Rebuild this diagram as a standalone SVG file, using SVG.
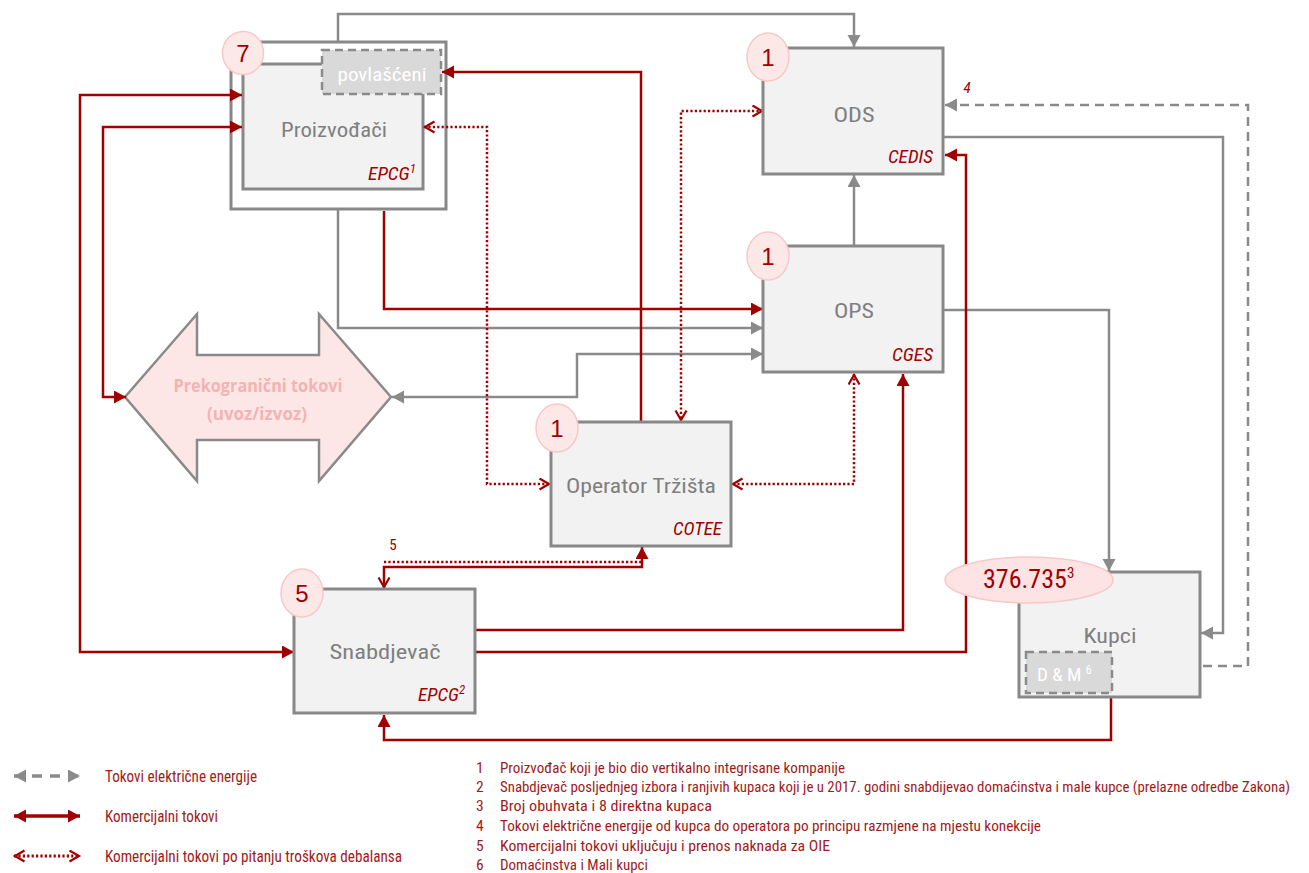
<svg xmlns="http://www.w3.org/2000/svg" width="1309" height="873" viewBox="0 0 1309 873">
<style>
.box{fill:#f2f2f2;stroke:#888;stroke-width:3}
.badge{fill:#fde8e8;stroke:#f8c8c8;stroke-width:1.5}
.bnum{font-family:"Liberation Sans",Arial,sans-serif;font-size:24px;fill:#a00000;text-anchor:middle}
.lbl{font-family:"Liberation Sans Narrow","Roboto Condensed","Liberation Sans",Arial,sans-serif;font-size:21px;fill:#7f7f7f;text-anchor:middle}
.org{font-family:"Liberation Sans Narrow","Roboto Condensed","Liberation Sans",Arial,sans-serif;font-size:18px;font-style:italic;fill:#a00000;text-anchor:end}
.g{fill:none;stroke:#8a8a8a;stroke-width:2.5}
.gd{fill:none;stroke:#8a8a8a;stroke-width:2.5;stroke-dasharray:9,6}
.r{fill:none;stroke:#a00000;stroke-width:2.5}
.rd{fill:none;stroke:#a00000;stroke-width:2.5;stroke-dasharray:2.2,2.2}
.txt{font-family:"Liberation Sans Narrow","Roboto Condensed","Liberation Sans",Arial,sans-serif;font-size:16px;fill:#a11a1a}
.fn{font-family:"Liberation Sans Narrow","Roboto Condensed","Liberation Sans",Arial,sans-serif;font-size:15.5px;fill:#a11a1a}
</style>
<defs>
<marker id="ag" markerUnits="userSpaceOnUse" markerWidth="14" markerHeight="14" refX="12" refY="6.5" orient="auto-start-reverse"><path d="M0,0 L12,6.5 L0,13 z" fill="#8a8a8a"/></marker>
<marker id="ar" markerUnits="userSpaceOnUse" markerWidth="14" markerHeight="14" refX="12" refY="6.5" orient="auto-start-reverse"><path d="M0,0 L12,6.5 L0,13 z" fill="#a00000"/></marker>
<marker id="ac" markerUnits="userSpaceOnUse" markerWidth="14" markerHeight="14" refX="12" refY="6.5" orient="auto-start-reverse"><path d="M1.5,1 L11,6.5 L1.5,12" fill="none" stroke="#a00000" stroke-width="2.2"/></marker>
</defs>

<g id="proizvodjaci">
<rect x="231" y="42" width="215" height="167" fill="none" stroke="#888" stroke-width="3"/>
<rect class="box" x="243" y="64" width="180" height="125"/>
<text class="lbl" x="334" y="137" textLength="106" lengthAdjust="spacingAndGlyphs">Proizvođači</text>
<text class="org" x="416" y="180" textLength="48" lengthAdjust="spacingAndGlyphs">EPCG<tspan dy="-7" font-size="12">1</tspan></text>
</g>
<g id="povlasceni">
<rect x="322" y="50" width="119" height="44" fill="#d9d9d9" stroke="#8a8a8a" stroke-width="2.5" stroke-dasharray="8,5"/>
<text x="382" y="81" style="font-family:'Liberation Sans Narrow','Roboto Condensed','Liberation Sans',Arial,sans-serif;font-size:19px;fill:#fff;text-anchor:middle" textLength="89" lengthAdjust="spacingAndGlyphs">povlašćeni</text>
</g>
<g id="badge7">
<ellipse class="badge" cx="243" cy="53" rx="20.5" ry="21.5"/>
<text class="bnum" x="243" y="62">7</text>
</g>

<g id="prekogranicni">
<path d="M125,397 L197,314 L197,355 L319,355 L319,314 L391,397 L319,481 L319,440 L197,440 L197,481 Z" fill="#fde6e6" stroke="#8a8a8a" stroke-width="2.5" stroke-linejoin="miter"/>
<text x="258" y="392" style="font-family:'Open Sans','Liberation Sans',sans-serif;font-size:17px;font-weight:bold;fill:#f4b3b3;text-anchor:middle" textLength="169" lengthAdjust="spacingAndGlyphs">Prekogranični tokovi</text>
<text x="257" y="420" style="font-family:'Open Sans','Liberation Sans',sans-serif;font-size:17px;font-weight:bold;fill:#f4b3b3;text-anchor:middle" textLength="100" lengthAdjust="spacingAndGlyphs">(uvoz/izvoz)</text>
</g>

<g id="connectors">
<path class="g" d="M338,41 L338,14 L854,14 L854,47" marker-end="url(#ag)"/>
<path class="g" d="M338,210 L338,328 L763,328" marker-end="url(#ag)"/>
<path class="g" d="M854,246 L854,175" marker-end="url(#ag)"/>
<path class="g" d="M944,137 L1223,137 L1223,633 L1201,633" marker-end="url(#ag)"/>
<path class="g" d="M944,310 L1109,310 L1109,571" marker-end="url(#ag)"/>
<path class="gd" d="M1203,666 L1248,666 L1248,105 L945,105" marker-end="url(#ag)"/>
<path class="g" d="M392,397 L577,397 L577,354 L763,354" marker-start="url(#ag)" marker-end="url(#ag)"/>
<path class="r" d="M294,652 L80,652 L80,95 L242,95" marker-start="url(#ar)" marker-end="url(#ar)"/>
<path class="r" d="M126,397 L103,397 L103,127 L242,127" marker-start="url(#ar)" marker-end="url(#ar)"/>
<path class="r" d="M384,211 L384,309 L763,309" marker-end="url(#ar)"/>
<path class="r" d="M641,421 L641,72 L442,72" marker-end="url(#ar)"/>
<path class="r" d="M476,630 L903,630 L903,374" marker-end="url(#ar)"/>
<path class="r" d="M476,652 L966,652 L966,155 L945,155" marker-end="url(#ar)"/>
<path class="r" d="M1111,698 L1111,740 L384,740 L384,715" marker-end="url(#ar)"/>
<path class="r" d="M384,588 L384,567 L642,567 L642,547" marker-start="url(#ac)" marker-end="url(#ar)"/>
<path class="rd" d="M384,562 L642,562"/>
<path class="rd" d="M424,127 L487,127 L487,484 L550,484" marker-start="url(#ac)" marker-end="url(#ac)"/>
<path class="rd" d="M763,111 L681,111 L681,421" marker-start="url(#ac)" marker-end="url(#ac)"/>
<path class="rd" d="M854,374 L854,484 L732,484" marker-start="url(#ac)" marker-end="url(#ac)"/>
<text x="967" y="93" class="org" style="text-anchor:middle;font-size:15px">4</text>
<text x="393" y="550" class="org" style="text-anchor:middle;font-size:15px;font-style:normal">5</text>
</g>

<g id="ods">
<rect class="box" x="763" y="48" width="180" height="126"/>
<text class="lbl" x="854" y="122" textLength="41" lengthAdjust="spacingAndGlyphs">ODS</text>
<text class="org" x="933" y="163" textLength="45" lengthAdjust="spacingAndGlyphs">CEDIS</text>
<ellipse class="badge" cx="768" cy="57" rx="21" ry="24"/>
<text class="bnum" x="768" y="66">1</text>
</g>

<g id="ops">
<rect class="box" x="763" y="246" width="180" height="126"/>
<text class="lbl" x="854" y="318" textLength="40" lengthAdjust="spacingAndGlyphs">OPS</text>
<text class="org" x="933" y="361" textLength="41" lengthAdjust="spacingAndGlyphs">CGES</text>
<ellipse class="badge" cx="768" cy="256" rx="21" ry="24"/>
<text class="bnum" x="768" y="265">1</text>
</g>

<g id="operator">
<rect class="box" x="551" y="422" width="180" height="124"/>
<text class="lbl" x="641" y="493" textLength="150" lengthAdjust="spacingAndGlyphs">Operator Tržišta</text>
<text class="org" x="722" y="535" textLength="49" lengthAdjust="spacingAndGlyphs">COTEE</text>
<ellipse class="badge" cx="557" cy="428" rx="21" ry="24"/>
<text class="bnum" x="557" y="437">1</text>
</g>

<g id="snabdjevac">
<rect class="box" x="294" y="589" width="181" height="124"/>
<text class="lbl" x="385" y="659" textLength="111" lengthAdjust="spacingAndGlyphs">Snabdjevač</text>
<text class="org" x="465" y="701" textLength="47" lengthAdjust="spacingAndGlyphs">EPCG<tspan dy="-7" font-size="12">2</tspan></text>
<ellipse class="badge" cx="302" cy="593" rx="21" ry="24"/>
<text class="bnum" x="302" y="602">5</text>
</g>

<g id="kupci">
<rect class="box" x="1019" y="572" width="181" height="125"/>
<text class="lbl" x="1110" y="643" textLength="53" lengthAdjust="spacingAndGlyphs">Kupci</text>
<rect x="1026" y="652" width="86" height="41" fill="#d9d9d9" stroke="#8a8a8a" stroke-width="2.5" stroke-dasharray="8,5"/>
<text x="1037" y="681" style="font-family:'Liberation Sans Narrow','Roboto Condensed','Liberation Sans',Arial,sans-serif;font-size:19px;fill:#fff">D &amp; M <tspan dy="-7" font-size="12">6</tspan></text>
<ellipse cx="1029" cy="580" rx="84" ry="23" fill="#fde3e3" stroke="#f8c8c8" stroke-width="1.5"/>
<text x="983" y="588" style="font-family:'Liberation Sans Narrow','Roboto Condensed','Liberation Sans',Arial,sans-serif;font-size:26px;fill:#a00000">376.735<tspan dy="-10" font-size="15">3</tspan></text>
</g>

<g id="legend">
<path class="gd" d="M14,776 L80,776" marker-start="url(#ag)" marker-end="url(#ag)" style="stroke-width:3.5;stroke-dasharray:10,8"/>
<text class="txt" x="105" y="782" textLength="152" lengthAdjust="spacingAndGlyphs">Tokovi električne energije</text>
<path class="r" d="M14,816 L80,816" marker-start="url(#ar)" marker-end="url(#ar)" style="stroke-width:3.5"/>
<text class="txt" x="105" y="822" textLength="113" lengthAdjust="spacingAndGlyphs">Komercijalni tokovi</text>
<path class="rd" d="M14,856 L80,856" marker-start="url(#ac)" marker-end="url(#ac)" style="stroke-width:3"/>
<text class="txt" x="105" y="862" textLength="297" lengthAdjust="spacingAndGlyphs">Komercijalni tokovi po pitanju troškova debalansa</text>
</g>

<g id="footnotes">
<text class="fn" x="476" y="773">1</text>
<text class="fn" x="500" y="773" textLength="345" lengthAdjust="spacingAndGlyphs">Proizvođač koji je bio dio vertikalno integrisane kompanije</text>
<text class="fn" x="476" y="792">2</text>
<text class="fn" x="500" y="792" style="font-size:14px" textLength="790" lengthAdjust="spacingAndGlyphs">Snabdjevač posljednjeg izbora i ranjivih kupaca koji je u 2017. godini snabdijevao domaćinstva i male kupce (prelazne odredbe Zakona)</text>
<text class="fn" x="476" y="811">3</text>
<text class="fn" x="500" y="811" textLength="212" lengthAdjust="spacingAndGlyphs">Broj obuhvata i 8 direktna kupaca</text>
<text class="fn" x="476" y="831">4</text>
<text class="fn" x="500" y="831" textLength="541" lengthAdjust="spacingAndGlyphs">Tokovi električne energije od kupca do operatora po principu razmjene na mjestu konekcije</text>
<text class="fn" x="476" y="851">5</text>
<text class="fn" x="500" y="851" textLength="330" lengthAdjust="spacingAndGlyphs">Komercijalni tokovi uključuju i prenos naknada za OIE</text>
<text class="fn" x="476" y="870">6</text>
<text class="fn" x="500" y="870" textLength="148" lengthAdjust="spacingAndGlyphs">Domaćinstva i Mali kupci</text>
</g>
</svg>
